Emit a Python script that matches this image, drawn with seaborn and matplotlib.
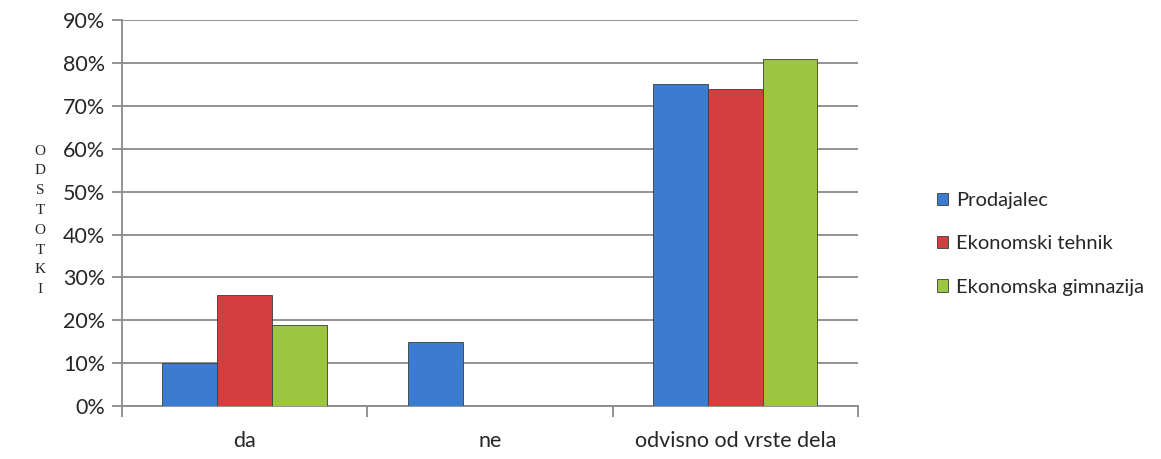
import pandas as pd
import seaborn as sb
import matplotlib.pyplot as plt
from matplotlib.ticker import FixedLocator, PercentFormatter

categories = ['da', 'ne', 'odvisno od vrste dela']
series = ['Prodajalec', 'Ekonomski tehnik', 'Ekonomska gimnazija']
prodajalec = [10, 15, 75]
ekonomski_tehnik = [26, 0, 74]
ekonomska_gimnazija = [19, 0, 81]
colors = ['#3b7bd0', '#d43e3e', '#9cc640']

rows = []
for name, vals in zip(series, [prodajalec, ekonomski_tehnik, ekonomska_gimnazija]):
    for cat, v in zip(categories, vals):
        rows.append(dict(kategorija=cat, smer=name, odstotek=v))
data = pd.DataFrame(rows)

sb.set_style('white')
plt.rcParams['font.family'] = ['Lato', 'DejaVu Sans']

fig = plt.figure(figsize=(11.61, 4.59), dpi=100)
ax = fig.add_axes([0.105, 0.1155, 0.634, 0.8405])
sb.barplot(data=data, x='kategorija', y='odstotek', hue='smer', order=categories,
           hue_order=series, palette=colors, saturation=1, width=0.67,
           edgecolor='#3d3d3d', linewidth=0.6, ax=ax, zorder=3)

ax.set_ylim(0, 90)
ax.set_xlim(-0.5, 2.5)
ax.set_yticks(range(0, 91, 10))
ax.yaxis.set_major_formatter(PercentFormatter(decimals=0))
ax.yaxis.grid(True, color='#8a8a8a', linewidth=1.3, zorder=0)
ax.set_axisbelow(True)
ax.xaxis.set_minor_locator(FixedLocator([-0.5, 0.5, 1.5, 2.5]))
ax.tick_params(axis='x', which='major', length=0, pad=18, labelsize=15.5)
ax.tick_params(axis='x', which='minor', length=8, width=1.3, color='#8a8a8a', direction='out', bottom=True)
ax.tick_params(axis='y', length=7, width=1.3, color='#8a8a8a', direction='out', left=True, labelsize=15.5, pad=5)
for s in ['top', 'right']:
    ax.spines[s].set_visible(False)
for s in ['left', 'bottom']:
    ax.spines[s].set_color('#8a8a8a')
    ax.spines[s].set_linewidth(1.3)
ax.set_xlabel('')
ax.set_ylabel('')

fig.text(0.0345, 0.52, '\n'.join('ODSTOTKI'), family='Liberation Serif', fontsize=11,
         ha='center', va='center', linespacing=1.68)

ax.legend(loc='center left', bbox_to_anchor=(1.083, 0.42), frameon=False, fontsize=14.5,
          handlelength=0.55, handleheight=0.55, handletextpad=0.38, labelspacing=1.3)

fig.savefig('out.png', dpi=100)
